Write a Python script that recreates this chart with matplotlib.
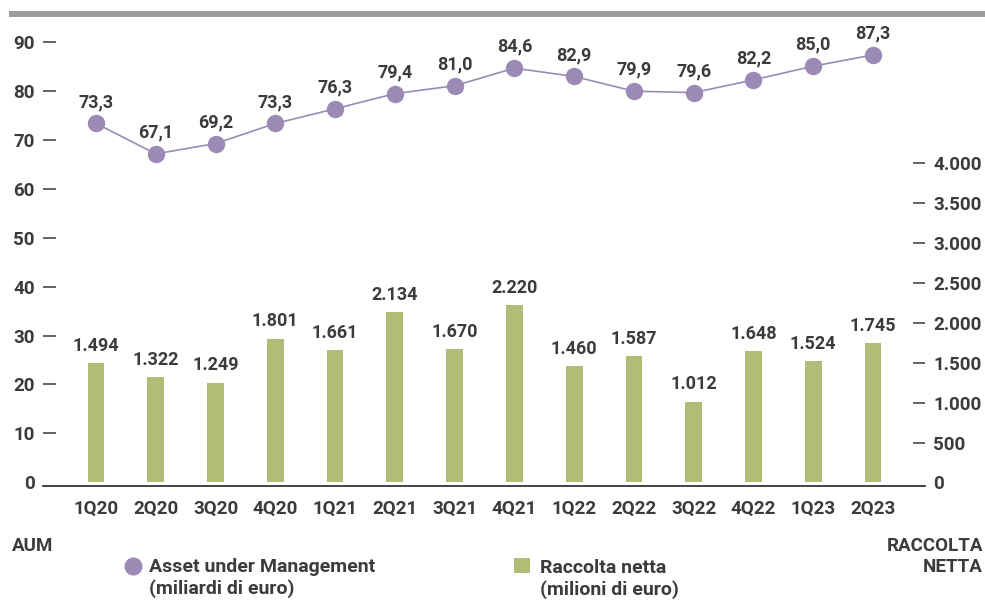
import matplotlib.pyplot as plt
from matplotlib.lines import Line2D
from matplotlib.patches import Rectangle

# dati
quarters = ['1Q20', '2Q20', '3Q20', '4Q20', '1Q21', '2Q21', '3Q21',
            '4Q21', '1Q22', '2Q22', '3Q22', '4Q22', '1Q23', '2Q23']
aum = [73.3, 67.1, 69.2, 73.3, 76.3, 79.4, 81.0,
       84.6, 82.9, 79.9, 79.6, 82.2, 85.0, 87.3]
raccolta = [1494, 1322, 1249, 1801, 1661, 2134, 1670,
            2220, 1460, 1587, 1012, 1648, 1524, 1745]
aum_ticks = [0, 10, 20, 30, 40, 50, 60, 70, 80, 90]
racc_ticks = [0, 500, 1000, 1500, 2000, 2500, 3000, 3500, 4000]

PURPLE = '#9a8ab5'
GREEN = '#b0bd76'
TXT = '#3b3b3b'
W, H = 985, 601

plt.rcParams['font.family'] = ['Roboto', 'DejaVu Sans']


def fx(px):
    return px / W


def fy(py):
    return 1 - py / H


def it_num(v, dec=1):
    s = f'{v:,.{dec}f}'
    return s.replace(',', 'X').replace('.', ',').replace('X', '.')


fig = plt.figure(figsize=(W / 100, H / 100), dpi=100)
ax = fig.add_axes([fx(43), fy(486), (925 - 43) / W, (486 - 41.7) / H])
ax2 = ax.twinx()
ax.set_zorder(ax2.get_zorder() + 1)
ax.patch.set_visible(False)

x = list(range(len(quarters)))
ylo = -0.73
ratio = 61.4
ax.set_xlim(-0.887, 13.87)
ax.set_ylim(ylo, 90)
ax2.set_ylim(ylo * ratio, 90 * ratio)

# barre raccolta netta (asse destro)
ax2.bar(x, raccolta, width=0.28, color=GREEN, zorder=2)
for xi, v in zip(x, raccolta):
    ax2.annotate(f'{v:,}'.replace(',', '.'), (xi, v), xytext=(0, 6),
                 textcoords='offset points', ha='center', va='bottom',
                 fontsize=13, fontweight='bold', color=TXT)

# linea AUM (asse sinistro)
ax.plot(x, aum, color=PURPLE, lw=1.2, marker='o', ms=11.5,
        mec=PURPLE, mfc=PURPLE, zorder=3, clip_on=False)
for xi, v in zip(x, aum):
    ax.annotate(it_num(v), (xi, v), xytext=(0, 9),
                textcoords='offset points', ha='center', va='bottom',
                fontsize=13, fontweight='bold', color=TXT)

for a in (ax, ax2):
    for s in a.spines.values():
        s.set_visible(False)
ax.spines['bottom'].set_visible(True)
ax.spines['bottom'].set_color('#222222')
ax.spines['bottom'].set_linewidth(1.2)

ax.set_xticks(x)
ax.set_xticklabels(quarters)
ax.tick_params(axis='x', length=0, pad=10, labelsize=13.5, labelcolor=TXT)
for lab in ax.get_xticklabels():
    lab.set_fontweight('bold')

ax.set_yticks(aum_ticks)
ax.set_yticklabels([str(t) for t in aum_ticks])
ax.tick_params(axis='y', direction='in', length=9, width=1.1, color=TXT,
               pad=6, labelsize=13.5, labelcolor=TXT)
ax.yaxis.get_major_ticks()[0].tick1line.set_visible(False)
for lab in ax.get_yticklabels():
    lab.set_fontweight('bold')

ax2.set_yticks(racc_ticks)
ax2.set_yticklabels([f'{t:,}'.replace(',', '.') for t in racc_ticks])
ax2.tick_params(axis='y', direction='in', length=9, width=1.1, color=TXT,
                pad=6, labelsize=13.5, labelcolor=TXT)
ax2.yaxis.get_major_ticks()[0].tick2line.set_visible(False)
for lab in ax2.get_yticklabels():
    lab.set_fontweight('bold')

# barra grigia in alto
fig.add_artist(Rectangle((fx(9), fy(17)), fx(976), 6 / H,
                         transform=fig.transFigure, color='#9d9d9d', lw=0))

# titoli assi
fig.text(fx(12), fy(546), 'AUM', ha='left', va='center',
         fontsize=13.5, fontweight='bold', color=TXT)
fig.text(fx(983), fy(546), 'RACCOLTA', ha='right', va='center',
         fontsize=13.5, fontweight='bold', color=TXT)
fig.text(fx(983), fy(567), 'NETTA', ha='right', va='center',
         fontsize=13.5, fontweight='bold', color=TXT)

# legenda
fig.add_artist(Line2D([fx(133)], [fy(566)], transform=fig.transFigure,
                      marker='o', ms=12, color=PURPLE, lw=0))
fig.text(fx(149), fy(567), 'Asset under Management', ha='left', va='center',
         fontsize=14, fontweight='semibold', color=TXT)
fig.text(fx(149), fy(589), '(miliardi di euro)', ha='left', va='center',
         fontsize=14, fontweight='semibold', color=TXT)
fig.add_artist(Rectangle((fx(514), fy(573)), 16 / W, 15 / H,
                         transform=fig.transFigure, color=GREEN, lw=0))
fig.text(fx(540), fy(568), 'Raccolta netta', ha='left', va='center',
         fontsize=14, fontweight='semibold', color=TXT)
fig.text(fx(540), fy(590), '(milioni di euro)', ha='left', va='center',
         fontsize=14, fontweight='semibold', color=TXT)

fig.savefig('out.png', dpi=100)
